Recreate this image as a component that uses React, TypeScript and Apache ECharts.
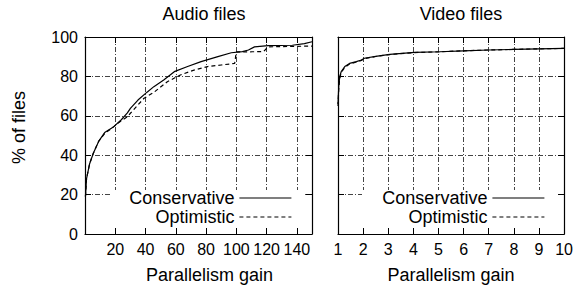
import React, { useEffect, useRef } from "react";
import * as echarts from "echarts";

const seriesNames = ["Conservative", "Optimistic"];
const panelTitles = ["Audio files", "Video files"];
const xAxisTitle = "Parallelism gain";
const yAxisTitle = "% of files";

const audioConservative: [number, number][] = [
  [0.3, 19], [1, 28], [3, 35.5], [5.5, 41], [9, 47], [13, 51.5], [19, 54.5], [24, 58],
  [28, 61.5], [30, 63.8], [35, 68], [41, 72], [45.5, 74.8], [52, 78.2], [59, 82.4],
  [67.8, 85], [76.7, 87.5], [87.8, 90], [96.7, 92], [104, 92.6], [108, 93.4], [112, 95],
  [121, 95.6], [137, 95.8], [145, 96.6], [150, 97.6],
];
const audioOptimistic: [number, number][] = [
  [0.3, 19], [1, 28], [3, 35.5], [5.5, 41], [9, 47], [13, 51], [19, 54.5], [24, 57.5],
  [28, 59.5], [30, 61.3], [35, 65.5], [39, 68.9], [45.5, 71.9], [54.4, 77.3], [63, 80.7],
  [72, 83.2], [81, 85], [90, 85.8], [98.9, 86.6], [100, 92.5], [110, 92.5], [118, 92.6],
  [121, 95], [135, 95.2], [150, 95.4],
];
const videoConservative: [number, number][] = [
  [1, 66], [1.03, 75], [1.07, 80], [1.13, 82.5], [1.27, 85], [1.46, 86.6], [1.73, 87.5],
  [1.93, 88.3], [2.05, 89.2], [2.5, 90.2], [3.06, 91.2], [4.05, 92.2], [5.05, 92.5],
  [6, 93], [7, 93.4], [8, 93.7], [9, 94], [10, 94.2],
];
const videoOptimistic: [number, number][] = [
  [1, 65], [1.03, 74], [1.07, 79], [1.13, 82], [1.27, 84.6], [1.46, 86.3], [1.73, 87.3],
  [1.93, 88.1], [2.05, 89], [2.5, 90.1], [3.06, 91.1], [4.05, 92.1], [5.05, 92.5],
  [6, 93], [7, 93.4], [8, 93.7], [9, 94], [10, 94.2],
];

const FONT = "'Liberation Sans', Arial, Helvetica, sans-serif";
const GRID_LINE = { color: "#444", width: 1, type: [5, 2, 1, 2] as number[] };

export default function App() {
  const ref = useRef<HTMLDivElement>(null);
  useEffect(() => {
    if (!ref.current) return;
    const chart = echarts.init(ref.current, null, { renderer: "svg" });

    const tick = { show: true, inside: true, length: 6, lineStyle: { color: "#000", width: 1 } };
    const line = { show: true, onZero: false, lineStyle: { color: "#000", width: 1.2 } };
    const label = { fontSize: 16, color: "#000", fontFamily: FONT, margin: 7 };

    const bottomX = (gi: number, min: number, max: number, interval: number, hideMin: boolean, namePad: number) => ({
      type: "value", gridIndex: gi, position: "bottom", min, max, interval, z: 5,
      axisLine: line, axisTick: tick,
      axisLabel: { ...label, showMinLabel: !hideMin, showMaxLabel: !hideMin },
      splitLine: { show: false },
      name: xAxisTitle, nameLocation: "middle", nameGap: 32,
      nameTextStyle: { fontSize: 18, color: "#000", fontFamily: FONT, padding: [0, 0, 0, namePad] },
    });
    const topX = (gi: number, min: number, max: number, interval: number) => ({
      type: "value", gridIndex: gi, position: "top", min, max, interval, z: 0,
      axisLine: line, axisTick: tick, axisLabel: { show: false },
      splitLine: { show: true, lineStyle: GRID_LINE },
    });
    const leftY = (gi: number, showLabels: boolean) => ({
      type: "value", gridIndex: gi, position: "left", min: 0, max: 100, interval: 20, z: 5,
      axisLine: line, axisTick: tick,
      axisLabel: { ...label, show: showLabels },
      splitLine: { show: false },
      ...(showLabels
        ? {
            name: yAxisTitle, nameLocation: "middle", nameGap: 57,
            nameTextStyle: { fontSize: 18, color: "#000", fontFamily: FONT, padding: [0, 0, 0, 16] },
          }
        : {}),
    });
    const rightY = (gi: number) => ({
      type: "value", gridIndex: gi, position: "right", min: 0, max: 100, interval: 20, z: 0,
      axisLine: line, axisTick: tick, axisLabel: { show: false },
      splitLine: { show: true, lineStyle: GRID_LINE },
    });

    const mkSeries = (name: string, data: [number, number][], xi: number, yi: number, dashed: boolean) => ({
      type: "line", name, data, xAxisIndex: xi, yAxisIndex: yi, symbol: "none", z: 3,
      lineStyle: { color: "#000", width: 1.2, type: dashed ? [4, 3] : "solid" },
      itemStyle: { color: "#000" },
    });

    const mkLegend = (right: number) => ({
      orient: "vertical", right, top: 189, align: "right", itemWidth: 52, itemHeight: 14,
      itemGap: 1, padding: 0, selectedMode: false,
      textStyle: { fontSize: 18, color: "#000", fontFamily: FONT },
      itemStyle: { color: "rgba(0,0,0,0)", borderWidth: 0, opacity: 0 },
      data: [
        { name: seriesNames[0], lineStyle: { type: "solid", color: "#000", width: 1.2, opacity: 1 } },
        { name: seriesNames[1], lineStyle: { type: [4, 3], color: "#000", width: 1.2, opacity: 1 } },
      ],
      z: 10,
    });

    chart.setOption({
      animation: false,
      backgroundColor: "#fff",
      grid: [
        { left: 85, top: 37, width: 227, height: 197 },
        { left: 338, top: 37, width: 227, height: 197 },
      ],
      xAxis: [
        bottomX(0, 0, 150, 20, true, 22),
        topX(0, 0, 150, 20),
        bottomX(1, 1, 10, 1, false, 0),
        topX(1, 1, 10, 1),
      ],
      yAxis: [leftY(0, true), rightY(0), leftY(1, false), rightY(1)],
      legend: [mkLegend(284), mkLegend(31)],
      series: [
        mkSeries(seriesNames[0], audioConservative, 0, 0, false),
        mkSeries(seriesNames[1], audioOptimistic, 0, 0, true),
        mkSeries(seriesNames[0], videoConservative, 2, 2, false),
        mkSeries(seriesNames[1], videoOptimistic, 2, 2, true),
      ],
      graphic: [
        { type: "rect", z: 1, shape: { x: 110, y: 190, width: 195, height: 44 }, style: { fill: "#fff" } },
        { type: "rect", z: 1, shape: { x: 362, y: 190, width: 196, height: 44 }, style: { fill: "#fff" } },
        { type: "text", z: 10, x: 204, y: 5, style: { text: panelTitles[0], fontSize: 18, fontFamily: FONT, fill: "#000", textAlign: "center" } },
        { type: "text", z: 10, x: 461, y: 5, style: { text: panelTitles[1], fontSize: 18, fontFamily: FONT, fill: "#000", textAlign: "center" } },
      ],
    });
    return () => chart.dispose();
  }, []);
  return <div ref={ref} style={{ position: "fixed", left: 0, top: 0, width: 576, height: 290 }} />;
}
